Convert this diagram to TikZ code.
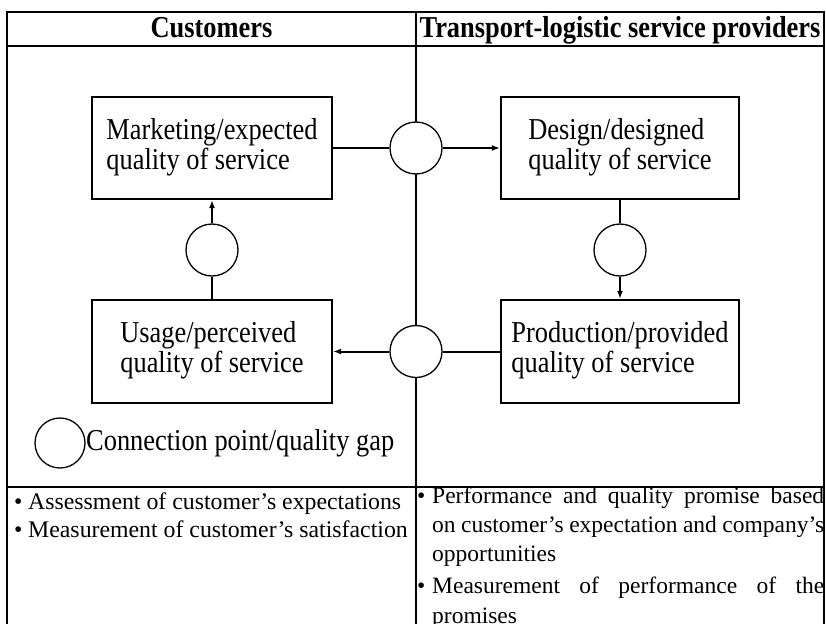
\documentclass[tikz,border=0pt]{standalone}
\usepackage{fontspec}
\setmainfont{Liberation Serif}
\usepackage{graphicx}
\usetikzlibrary{arrows.meta}
\newcommand\vstr[1]{\scalebox{1}[1.15]{#1}}
\begin{document}
\begin{tikzpicture}[x=1pt,y=-1pt,
  tline/.style={line width=2.5pt},
  qbox/.style={draw, line width=2.2pt, minimum width=240pt, minimum height=102pt, inner sep=0pt, font=\fontsize{26.4}{25.5}\selectfont},
  gap/.style={circle, draw, fill=white, line width=1.3pt, minimum size=52pt, inner sep=0pt},
  conn/.style={line width=2pt},
  arr/.style={line width=2pt, -{Latex[length=8pt,width=6pt]}},
  hdr/.style={font=\fontsize{26.4}{30}\selectfont\bfseries, anchor=base, inner sep=0pt},
  ltxt/.style={font=\fontsize{23.8}{28}\selectfont, anchor=base west, inner sep=0pt},
  rtxt/.style={font=\fontsize{23.5}{28}\selectfont, anchor=base west, inner sep=0pt},
]
\useasboundingbox (0,0) rectangle (826,623);
\clip (0,0) rectangle (826,623);
\fill[white] (0,0) rectangle (826,623);

% column divider (behind the circles)
\draw[tline] (416,12) -- (416,640);

% headers
\node[hdr] (hc) at (211.5,38) {\vstr{Customers}};
\node[hdr] (ht) at (620,38) {\vstr{Transport-logistic service providers}};

% quality boxes
\node[qbox] (mk) at (212,148) {\vstr{\begin{tabular}{@{}l@{}}Marketing/expected\\quality of service\end{tabular}}};
\node[qbox, minimum height=103pt] (us) at (212,351.5) {\vstr{\begin{tabular}{@{}l@{}}Usage/perceived\\quality of service\end{tabular}}};
\node[qbox, minimum width=238pt] (ds) at (620,148) {\vstr{\begin{tabular}{@{}l@{}}Design/designed\\quality of service\end{tabular}}};
\node[qbox, minimum width=238pt, minimum height=103pt] (pr) at (620,351.5) {\vstr{\begin{tabular}{@{}l@{}}Production/provided\\quality of service\end{tabular}}};

% gap circles
\node[gap] (c1) at (416,148) {};
\node[gap] (c2) at (212,250) {};
\node[gap] (c3) at (620,250) {};
\node[gap] (c4) at (416,351.5) {};

% connectors
\draw[conn] (mk.east) -- (c1.west);
\draw[arr] (c1.east) -- (ds.west);
\draw[conn] (ds.south) -- (c3.north);
\draw[arr] (c3.south) -- (pr.north);
\draw[conn] (pr.west) -- (c4.east);
\draw[arr] (c4.west) -- (us.east);
\draw[conn] (us.north) -- (c2.south);
\draw[arr] (c2.north) -- (mk.south);

% legend
\node[gap, minimum size=50pt] (lg) at (60,443) {};
\node[anchor=base west, inner sep=0pt, font=\fontsize{26.4}{30}\selectfont] (lt) at (86,450) {\vstr{Connection point/quality gap}};

% bottom left texts
\node[ltxt] (b1b) at (14,509) {•};
\node[ltxt] (b1) at (28,509) {Assessment of customer's expectations};
\node[ltxt] (b2b) at (14,537) {•};
\node[ltxt] (b2) at (28,537) {Measurement of customer's satisfaction};

% bottom right texts
\node[rtxt] (r1b) at (417,503) {•};
\node[rtxt] (r1) at (432,503) {\makebox[392pt][s]{Performance and quality promise based}};
\node[rtxt] (r2) at (432,532) {\makebox[392pt][s]{on customer's expectation and company's}};
\node[rtxt] (r3) at (432,561) {opportunities};
\node[rtxt] (r4b) at (417,593) {•};
\node[rtxt] (r4) at (432,593) {\makebox[392pt][s]{Measurement of performance of the}};
\node[rtxt] (r5) at (432,623) {promises};

% table frame
\draw[tline] (7,640) -- (7,12) -- (824,12) -- (824,640);
\draw[tline] (7,46) -- (824,46);
\draw[tline] (7,487) -- (824,487);
\end{tikzpicture}
\end{document}
